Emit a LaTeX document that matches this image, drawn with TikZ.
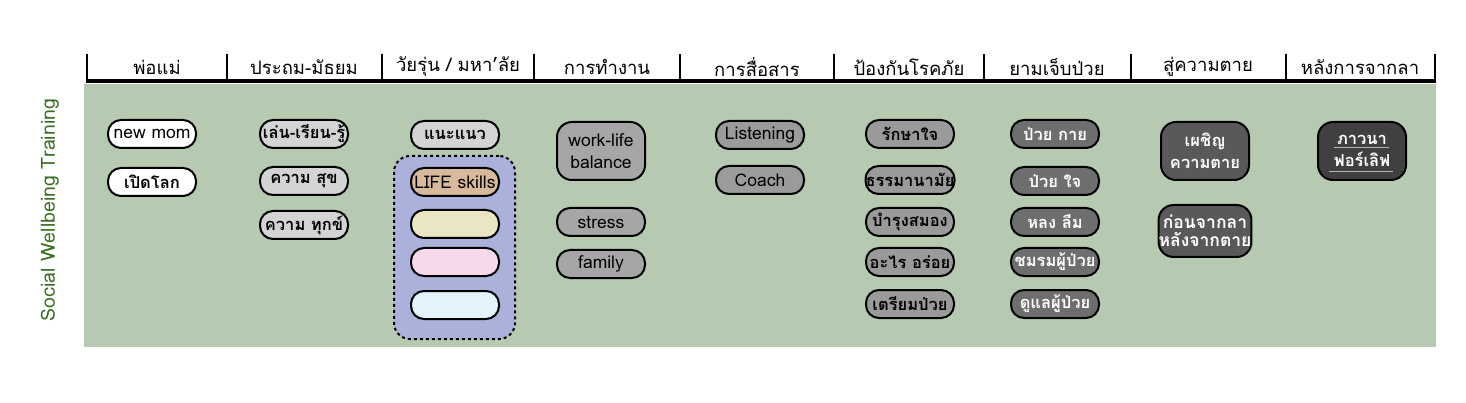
\documentclass[tikz,border=0pt]{standalone}
\usepackage{fontspec}
\setmainfont[Script=Thai]{Loma}
\definecolor{bggreen}{HTML}{B6CAB2}
\definecolor{titlegreen}{HTML}{3B6E22}
\definecolor{lifebox}{HTML}{ABB1DA}
\definecolor{cwhite}{HTML}{FFFFFF}
\definecolor{ctwo}{HTML}{D4D4D4}
\definecolor{cfour}{HTML}{A6A6A6}
\definecolor{cfive}{HTML}{9B9B9B}
\definecolor{csix}{HTML}{9A9A9A}
\definecolor{cseven}{HTML}{6E6E6E}
\definecolor{ceight}{HTML}{595959}
\definecolor{cnine}{HTML}{404040}
\definecolor{clife}{HTML}{D9B99B}
\definecolor{cyellow}{HTML}{EAE6C4}
\definecolor{cpink}{HTML}{F6D9EA}
\definecolor{cblue}{HTML}{E2F3FC}
\begin{document}
\begin{tikzpicture}[x=1pt,y=-1pt,
  pill/.style={draw=black, line width=2pt, rounded corners=13pt, minimum width=88pt, minimum height=28pt, inner sep=0pt, font=\fontsize{17.5}{22}\selectfont, align=center},
  bigpill/.style={pill, minimum height=58pt, rounded corners=15pt},
  thai/.style={font=\fontsize{16.5}{22}\selectfont\bfseries},
  hdr/.style={font=\fontsize{18.5}{20}\selectfont, anchor=center},
  wtxt/.style={thai, text=white}
]
\useasboundingbox (0,0) rectangle (1466,403);
% background
\fill[bggreen] (84,84) rectangle (1436,347);
% header ticks
\foreach \xx in {87,227,382,534,680,834,984,1131,1286,1435}
  \draw[line width=1.2pt] (\xx,54) -- (\xx,80);
\draw[line width=4pt] (86,81.5) -- (1436,81.5);
% headers
\node[hdr] (h1) at (157,67) {พ่อแม่};
\node[hdr] (h2) at (304,67) {ประถม-มัธยม};
\node[hdr] (h3) at (458,67) {วัยรุ่น / มหา’ลัย};
\node[hdr] (h4) at (607,67) {การทำงาน};
\node[hdr] (h5) at (757,67) {การสื่อสาร};
\node[hdr] (h6) at (909,67) {ป้องกันโรคภัย};
\node[hdr] (h7) at (1057,67) {ยามเจ็บป่วย};
\node[hdr] (h8) at (1208,67) {สู่ความตาย};
\node[hdr] (h9) at (1360,67) {หลังการจากลา};
% side title
\node[rotate=90, text=titlegreen, font=\fontsize{19.5}{21}\selectfont] (side) at (50,210) {Social Wellbeing Training};
% column 1
\node[pill, fill=cwhite] (c1a) at (152,134) {new mom};
\node[pill, fill=cwhite, thai] (c1b) at (152,182) {เปิดโลก};
% column 2
\node[pill, fill=ctwo, thai] (c2a) at (304,134) {เล่น-เรียน-รู้};
\node[pill, fill=ctwo, thai] (c2b) at (304,181) {ความ สุข};
\node[pill, fill=ctwo, thai] (c2c) at (304,225) {ความ ทุกข์};
% column 3
\node[pill, fill=ctwo, thai] (c3a) at (455,135) {แนะแนว};
\node[draw=black, line width=2pt, dashed, fill=lifebox, rounded corners=16pt, minimum width=121pt, minimum height=183pt, inner sep=0pt] (lifegrp) at (454.5,247.5) {};
\node[pill, fill=clife] (c3b) at (455,182) {LIFE skills};
\node[pill, fill=cyellow] (c3c) at (455,224) {};
\node[pill, fill=cpink] (c3d) at (455,262) {};
\node[pill, fill=cblue] (c3e) at (455,305) {};
% column 4
\node[bigpill, fill=cfour] (c4a) at (601,151) {work-life\\balance};
\node[pill, fill=cfour] (c4b) at (601,222) {stress};
\node[pill, fill=cfour] (c4c) at (601,264) {family};
% column 5
\node[pill, fill=cfive] (c5a) at (760,135) {Listening};
\node[pill, fill=cfive] (c5b) at (760,180) {Coach};
% column 6
\node[pill, fill=csix, thai] (c6a) at (910,134) {รักษาใจ};
\node[pill, fill=csix, thai] (c6b) at (910,180) {ธรรมานามัย};
\node[pill, fill=csix, thai] (c6c) at (910,222) {บำรุงสมอง};
\node[pill, fill=csix, thai] (c6d) at (910,262) {อะไร อร่อย};
\node[pill, fill=csix, thai] (c6e) at (910,304) {เตรียมป่วย};
% column 7
\node[pill, fill=cseven, wtxt] (c7a) at (1055,134) {ป่วย กาย};
\node[pill, fill=cseven, wtxt] (c7b) at (1055,181) {ป่วย ใจ};
\node[pill, fill=cseven, wtxt] (c7c) at (1055,222) {หลง ลืม};
\node[pill, fill=cseven, wtxt] (c7d) at (1055,262) {ชมรมผู้ป่วย};
\node[pill, fill=cseven, wtxt] (c7e) at (1055,304) {ดูแลผู้ป่วย};
% column 8
\node[bigpill, fill=ceight, wtxt] (c8a) at (1205,151) {เผชิญ\\ความตาย};
\node[bigpill, fill=ceight, wtxt, minimum height=52pt, font=\fontsize{17.5}{18}\selectfont\bfseries] (c8b) at (1205,231) {ก่อนจากลา\\หลังจากตาย};
% column 9
\node[bigpill, fill=cnine, wtxt] (c9a) at (1362,151) {ภาวนา\\ฟอร์เลิฟ};
\draw[gray!60, line width=1pt] ([xshift=-28pt,yshift=3pt]c9a.center) -- ([xshift=27pt,yshift=3pt]c9a.center);
\draw[gray!60, line width=1pt] ([xshift=-33pt,yshift=-21pt]c9a.center) -- ([xshift=31pt,yshift=-21pt]c9a.center);
\end{tikzpicture}
\end{document}
